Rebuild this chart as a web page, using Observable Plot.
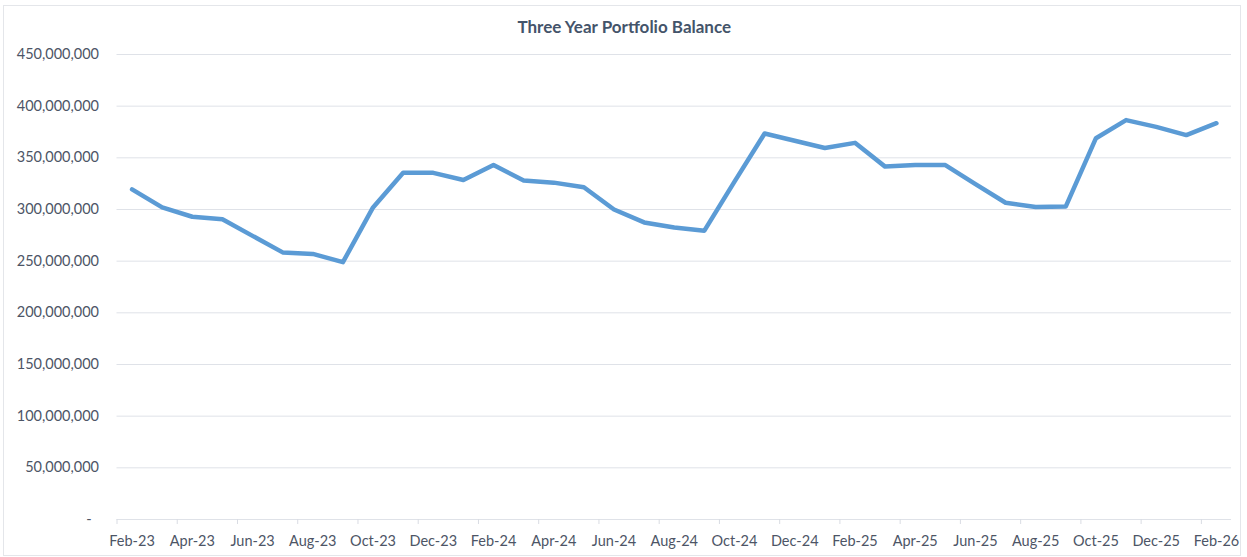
<!DOCTYPE html>
<html><head><meta charset="utf-8">
<script src="https://cdn.jsdelivr.net/npm/d3@7"></script>
<script src="https://cdn.jsdelivr.net/npm/@observablehq/plot@0.6"></script>
<style>
html,body{margin:0;padding:0;background:#fff;}
#wrap{position:relative;width:1247px;height:557px;overflow:hidden;}
#frame{position:absolute;left:3px;top:5px;width:1236px;height:549px;border:1px solid #e4e6ea;pointer-events:none;}
</style></head><body>
<div id="wrap"><div id="frame"></div></div>
<script>
const title = "Three Year Portfolio Balance";
const months = ["Feb-23","Mar-23","Apr-23","May-23","Jun-23","Jul-23","Aug-23","Sep-23","Oct-23","Nov-23","Dec-23","Jan-24",
  "Feb-24","Mar-24","Apr-24","May-24","Jun-24","Jul-24","Aug-24","Sep-24","Oct-24","Nov-24","Dec-24","Jan-25",
  "Feb-25","Mar-25","Apr-25","May-25","Jun-25","Jul-25","Aug-25","Sep-25","Oct-25","Nov-25","Dec-25","Jan-26","Feb-26"];
const balances = [319500000,302000000,293000000,290500000,274500000,258500000,257000000,249000000,302000000,335500000,335500000,328500000,
  343000000,328000000,326000000,321500000,300000000,287500000,282500000,279500000,327000000,373500000,366500000,359500000,
  364500000,341500000,343000000,343000000,324500000,306500000,302500000,303000000,369000000,386500000,380000000,372000000,383500000];
const yTicks = [0,50000000,100000000,150000000,200000000,250000000,300000000,350000000,400000000,450000000];
const labelIdx = months.map((m,i)=>i).filter(i=>i%2===0);
const tickPos = labelIdx.map(i=>i-0.5);
const data = months.map((m,i)=>({i, month:m, value:balances[i]}));

const chart = Plot.plot({
  width:1247, height:557,
  marginLeft:116.5, marginRight:16, marginTop:54, marginBottom:38,
  style:{fontFamily:"Lato, 'Open Sans', sans-serif", fontSize:"14.5px", color:"#4d5566", background:"transparent", overflow:"visible"},
  x:{domain:[-0.5, months.length-0.5], axis:null, label:null},
  y:{domain:[0,450000000], axis:null, label:null},
  marks:[
    Plot.ruleY(yTicks, {stroke:"#dfe2e8", strokeWidth:1}),
    Plot.axisY(yTicks, {tickSize:0, tickPadding:18, label:null, tickFormat:d=>d===0?"-\u00a0\u00a0":d3.format(",")(d), fontSize:14.5}),
    Plot.axisX(tickPos, {tickSize:5, stroke:"#d9dce3", label:null, tickFormat:()=>""}),
    Plot.axisX(labelIdx, {tickSize:0, tickPadding:16, label:null, tickFormat:i=>months[i], fontSize:14.5}),
    Plot.line(data, {x:"i", y:"value", stroke:"#5b9bd5", strokeWidth:4.5, strokeLinejoin:"round", strokeLinecap:"round"}),
    Plot.text([title], {frameAnchor:"top", dx:-50, dy:-27, lineAnchor:"middle", fontWeight:"bold", fontSize:17, fill:"#44546a"})
  ]
});
document.getElementById("wrap").prepend(chart);
</script>
</body></html>
